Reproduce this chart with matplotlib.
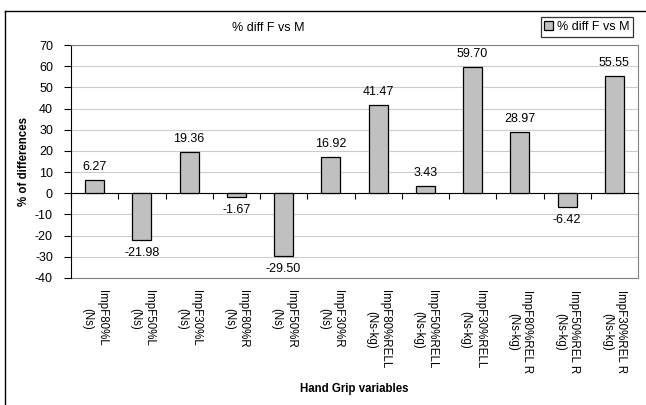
import matplotlib
matplotlib.use("Agg")
import matplotlib.pyplot as plt
from matplotlib.lines import Line2D
import numpy as np

plt.rcParams['font.family'] = ['Liberation Sans', 'DejaVu Sans']
plt.rcParams['axes.unicode_minus'] = False

categories = ["ImpF80%L\n(Ns)", "ImpF50%L\n(Ns)", "ImpF30%L\n(Ns)",
              "ImpF80%R\n(Ns)", "ImpF50%R\n(Ns)", "ImpF30%R\n(Ns)",
              "ImpF80%RELL\n(Ns-kg)", "ImpF50%RELL\n(Ns-kg)", "ImpF30%RELL\n(Ns-kg)",
              "ImpF80%REL R\n(Ns-kg)", "ImpF50%REL R\n(Ns-kg)", "ImpF30%REL R\n(Ns-kg)"]
values = [6.27, -21.98, 19.36, -1.67, -29.50, 16.92,
          41.47, 3.43, 59.70, 28.97, -6.42, 55.55]
series_name = "% diff F vs M"
y_ticks = list(range(-40, 71, 10))

W, H = 646, 405
fig = plt.figure(figsize=(W / 100, H / 100), dpi=100)

# chart-area frame
fig.add_artist(Line2D([5 / W, 5 / W], [0, 1 - 11 / H], transform=fig.transFigure,
                      color="black", lw=1.0))
fig.add_artist(Line2D([5 / W, 1], [1 - 11 / H, 1 - 11 / H], transform=fig.transFigure,
                      color="black", lw=1.0))

left, right, top, bottom = 71, 638, 45, 278
ax = fig.add_axes([left / W, 1 - bottom / H, (right - left) / W, (bottom - top) / H])

x = np.arange(len(values))
bar_w = 1 / 2.5
bars = ax.bar(x, values, width=bar_w, color="#c0c0c0", edgecolor="black", lw=0.9,
              zorder=3, label=series_name)

ax.set_xlim(-0.5, len(values) - 0.5)
ax.set_ylim(-40, 70)
ax.set_yticks(y_ticks)
ax.yaxis.grid(True, color="#cccccc", lw=0.8, zorder=0)
ax.set_axisbelow(True)
ax.tick_params(axis="y", direction="out", length=5, width=0.8, labelsize=9, pad=8)

# category axis crossing at zero with boundary ticks
ax.spines["bottom"].set_position(("data", 0))
ax.spines["bottom"].set_color("black")
ax.set_xticks(np.arange(len(values) + 1) - 0.5)
ax.tick_params(axis="x", direction="out", length=4, width=0.8, labelbottom=False)
for s in ("top", "right"):
    ax.spines[s].set_color("#808080")
ax.spines["left"].set_color("black")

# category labels along the bottom of the plot area
sec = ax.secondary_xaxis(0)
sec.set_xticks(x)
sec.set_xticklabels(categories, rotation=-90, fontsize=8.3, va="top", ha="center",
                    multialignment="center")
sec.tick_params(length=0, pad=9)
sec.spines["bottom"].set_color("#808080")

for xi, v in zip(x, values):
    if v >= 0:
        ax.annotate(f"{v:.2f}", (xi, v), xytext=(0, 5), textcoords="offset points",
                    ha="center", va="bottom", fontsize=9)
    else:
        ax.annotate(f"{v:.2f}", (xi, v), xytext=(0, -5), textcoords="offset points",
                    ha="center", va="top", fontsize=9)

ax.set_ylabel("% of differences", fontsize=8.3, fontweight="bold", labelpad=0)
ax.yaxis.set_label_coords(-(left - 30) / (right - left), 0.5)

fig.text(354 / W, 1 - 389 / H, "Hand Grip variables", fontsize=8.3, fontweight="bold",
         ha="center", va="center")
fig.text(268 / W, 1 - 28 / H, series_name, fontsize=9, ha="center", va="center")

leg = fig.legend(handles=[bars], labels=[series_name], loc="upper right",
                 bbox_to_anchor=(633 / W, 1 - 17 / H), fontsize=9, frameon=True,
                 fancybox=False, edgecolor="black", handlelength=0.7, handleheight=0.7,
                 handletextpad=0.3, borderpad=0.3, borderaxespad=0)
leg.get_frame().set_linewidth(0.9)

fig.savefig("out.png", dpi=100)
